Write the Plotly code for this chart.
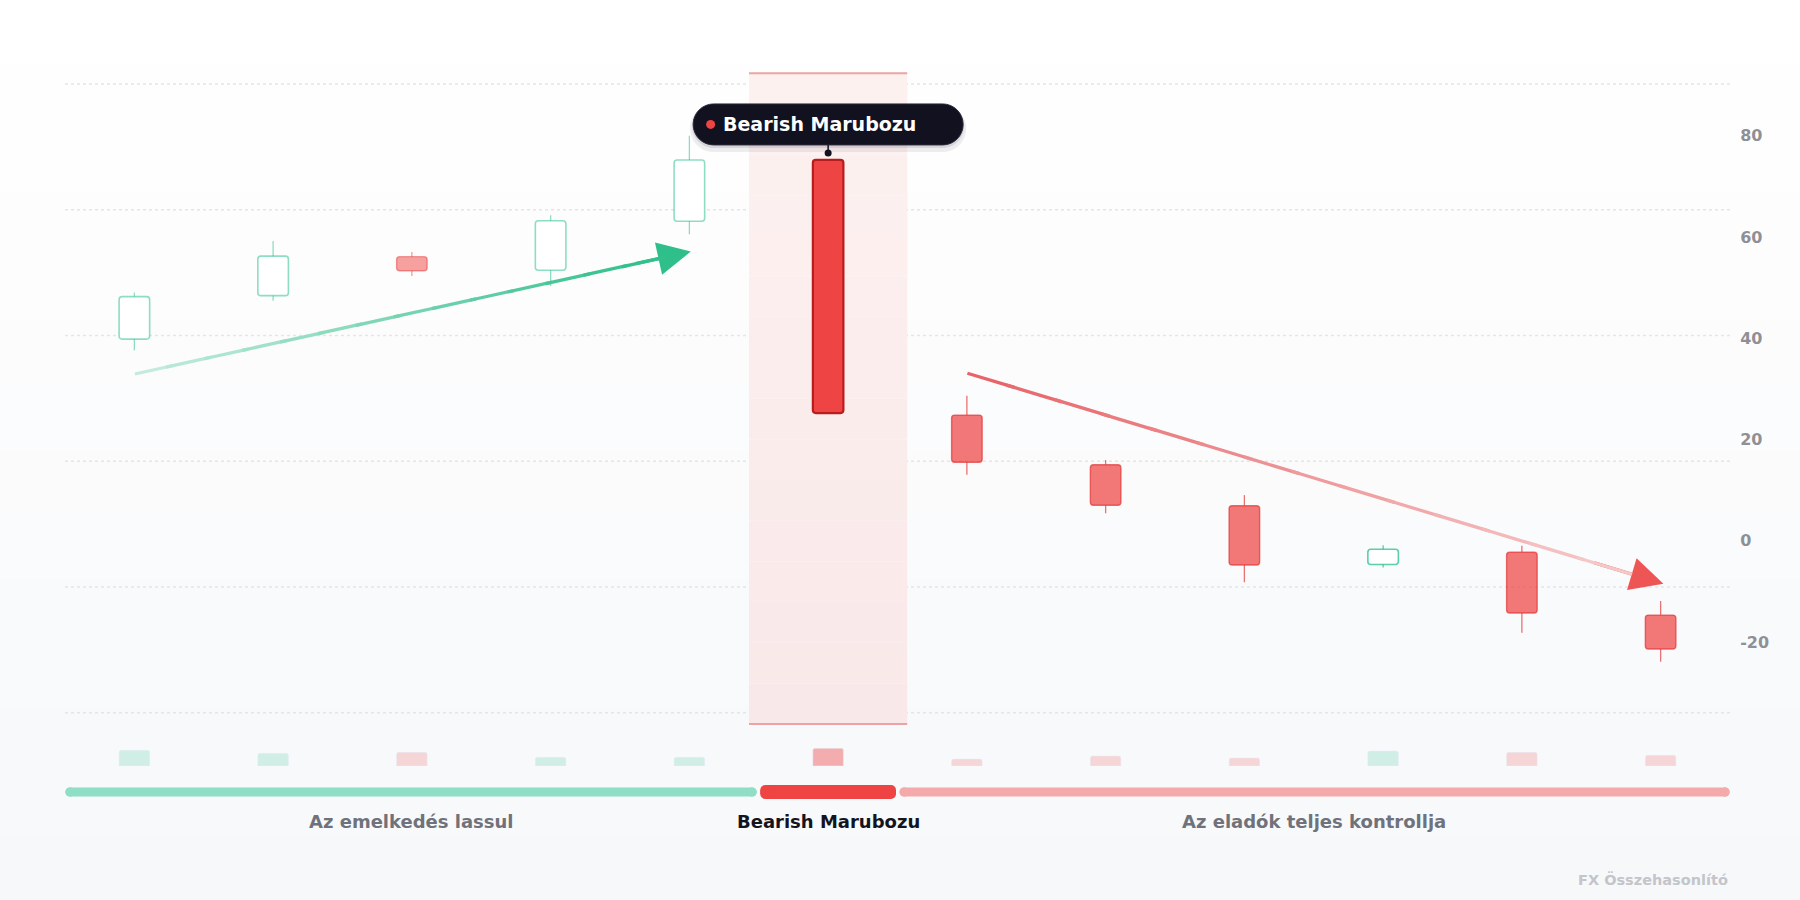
import plotly.graph_objects as go

# candle data (index 0..11)
candles = list(range(12))
opens = [39.8, 48.4, 56.1, 53.4, 63.1, 75.2, 24.8, 15.0, 6.9, -4.7, -2.3, -14.7]
closes = [48.2, 56.2, 53.3, 63.2, 75.2, 25.2, 15.5, 7.0, -4.8, -1.7, -14.3, -21.4]
highs = [49.0, 59.2, 57.0, 64.3, 80.0, 75.2, 28.6, 15.9, 9.0, -0.9, -1.0, -11.9]
lows = [37.6, 47.4, 52.3, 50.3, 60.5, 25.2, 13.0, 5.4, -8.2, -5.3, -18.2, -23.9]
volumes = [157, 127, 137, 87, 87, 177, 70, 100, 80, 150, 137, 107]

y_ticks = [-20, 0, 20, 40, 60, 80]

# phases of the story, by candle index
phase_labels = ['Az emelkedés lassul', 'Bearish Marubozu', 'Az eladók teljes kontrollja']
phase_first = [0, 5, 6]
phase_last = [4, 5, 11]

pattern_index = 5
pattern_name = 'Bearish Marubozu'

# trend arrows (start -> tip)
up_arrow_x = [0, 4.01]
up_arrow_y = [32.9, 57.1]
down_arrow_x = [6, 11.02]
down_arrow_y = [33.1, -8.5]

watermark = 'FX Összehasonlító'

FONT = 'DejaVu Sans'
GREEN = (16, 185, 129)
RED = (239, 68, 68)
PHASE_ALPHA = [0.5, 1.0, 0.72]
BAR_W = 0.22


def rgba(c, a):
    return 'rgba(%d,%d,%d,%.3f)' % (c[0], c[1], c[2], a)


def mix(c0, c1, t):
    return 'rgb(%d,%d,%d)' % tuple(int(round(a + (b - a) * t)) for a, b in zip(c0, c1))


def phase_of(i):
    for p in range(len(phase_first)):
        if phase_first[p] <= i <= phase_last[p]:
            return p
    return 0


fig = go.Figure()

# wicks (drawn under the bodies, split so hollow candles stay hollow)
for i in candles:
    up = closes[i] >= opens[i]
    a = PHASE_ALPHA[phase_of(i)]
    if i == pattern_index:
        col = '#b91c1c'
    elif up:
        col = rgba(GREEN, a * 0.95)
    else:
        col = rgba((225, 50, 50), a * 0.95)
    top = max(opens[i], closes[i])
    bot = min(opens[i], closes[i])
    fig.add_trace(go.Scatter(
        x=[i, i, None, i, i],
        y=[highs[i], top, None, bot, lows[i]],
        mode='lines',
        line={'color': col, 'width': 1.3},
        hoverinfo='skip',
        showlegend=False,
    ))

fills, lines, widths = [], [], []
for i in candles:
    up = closes[i] >= opens[i]
    a = PHASE_ALPHA[phase_of(i)]
    if i == pattern_index:
        fills.append('#ef4444')
        lines.append('#b91c1c')
        widths.append(2.2)
    elif up:
        fills.append('#ffffff')
        lines.append(rgba(GREEN, a * 0.95))
        widths.append(1.6)
    else:
        fills.append(rgba(RED, a))
        lines.append(rgba((225, 50, 50), a * 0.95))
        widths.append(1.4)

fig.add_trace(go.Bar(
    x=candles,
    y=[abs(c - o) for o, c in zip(opens, closes)],
    base=[min(o, c) for o, c in zip(opens, closes)],
    width=BAR_W,
    marker={'color': fills, 'line': {'color': lines, 'width': widths},
            'cornerradius': 3},
    hoverinfo='skip',
    showlegend=False,
))

# volume
vol_cols = []
for i in candles:
    up = closes[i] >= opens[i]
    if i == pattern_index:
        vol_cols.append(rgba(RED, 0.42))
    elif up:
        vol_cols.append(rgba(GREEN, 0.17))
    else:
        vol_cols.append(rgba(RED, 0.2))

fig.add_trace(go.Bar(
    x=candles,
    y=volumes,
    yaxis='y2',
    width=BAR_W,
    marker={'color': vol_cols, 'cornerradius': 2},
    hoverinfo='skip',
    showlegend=False,
))

shapes = []

# soft vertical background wash, white at the top
n_bands = 14
pl, pr, pb, pt = -65 / 1665, 1 + 70 / 1665, -134 / 682, 1 + 84 / 682
for b in range(n_bands):
    t = b / (n_bands - 1)
    shapes.append(dict(type='rect', xref='paper', yref='paper', layer='below',
                       x0=pl, x1=pr,
                       y0=pt - (pt - pb) * (b + 1) / n_bands,
                       y1=pt - (pt - pb) * b / n_bands,
                       fillcolor=mix((255, 255, 255), (247, 248, 250), t),
                       line={'width': 0}))

# dotted background guides
for k in range(6):
    shapes.append(dict(type='line', xref='x domain', yref='y domain',
                       x0=0, x1=1, y0=k / 5, y1=k / 5, layer='below',
                       line={'color': '#e2e5ea', 'width': 1.5, 'dash': 'dot'}))

# highlight zone around the pattern candle (vertical wash, deeper at the bottom)
hx0 = pattern_index - 0.57
hx1 = pattern_index + 0.57
hy0, hy1 = -0.018, 1.017
n_wash = 16
for b in range(n_wash):
    t = b / (n_wash - 1)
    shapes.append(dict(type='rect', xref='x', yref='y domain', x0=hx0, x1=hx1,
                       y0=hy1 - (hy1 - hy0) * (b + 1) / n_wash,
                       y1=hy1 - (hy1 - hy0) * b / n_wash,
                       layer='below', line={'width': 0},
                       fillcolor=mix((253, 241, 240), (249, 232, 233), t)))
for yy in (hy0, hy1):
    shapes.append(dict(type='line', xref='x', yref='y domain', x0=hx0, x1=hx1,
                       y0=yy, y1=yy, line={'color': '#eba3a3', 'width': 2}))

# tooltip pill above the pattern candle (pixel offsets from its high)
ax = pattern_index
ay = highs[pattern_index]
w, y0, y1 = 135, 15, 56
ym = (y0 + y1) / 2


def pill(dx, dy, grow):
    L, R, B, T = -w - grow + dx, w + grow + dx, y0 - grow + dy, y1 + grow + dy
    rr = (T - B) / 2
    kk = 0.5523 * rr
    mid = (T + B) / 2
    return ('M %f,%f L %f,%f C %f,%f %f,%f %f,%f C %f,%f %f,%f %f,%f '
            'L %f,%f C %f,%f %f,%f %f,%f C %f,%f %f,%f %f,%f Z') % (
        L + rr, B, R - rr, B,
        R - rr + kk, B, R, mid - kk, R, mid,
        R, mid + kk, R - rr + kk, T, R - rr, T,
        L + rr, T,
        L + rr - kk, T, L, mid + kk, L, mid,
        L, mid - kk, L + rr - kk, B, L + rr, B)


pix = dict(xref='x', yref='y', xsizemode='pixel', ysizemode='pixel',
           xanchor=ax, yanchor=ay)
shapes.append(dict(type='path', path=pill(0, -4, 3),
                   fillcolor='rgba(20,20,40,0.07)', line={'width': 0}, **pix))
shapes.append(dict(type='path', path=pill(0, -2, 1),
                   fillcolor='rgba(20,20,40,0.10)', line={'width': 0}, **pix))
shapes.append(dict(type='path', path=pill(0, 0, 0),
                   fillcolor='#11111f', line={'color': '#2a2a3a', 'width': 1}, **pix))
shapes.append(dict(type='line', x0=0, x1=0, y0=7, y1=y0,
                   line={'color': '#11111f', 'width': 1.5}, **pix))
shapes.append(dict(type='circle', x0=-3.5, x1=3.5, y0=3.5, y1=10.5,
                   fillcolor='#11111f', line={'width': 0}, **pix))
shapes.append(dict(type='circle', x0=-122, x1=-113, y0=ym - 4.5, y1=ym + 4.5,
                   fillcolor='#ef4444', line={'width': 0}, **pix))

# phase progress bar with rounded ends
bar_y = -0.0381
phase_cols = ['#8fdec5', '#ef4444', '#f4aaaa']
phase_half = [4.5, 7, 4.5]
gap = 0.012
inset = 0.035
for p in range(len(phase_labels)):
    x0 = phase_first[p] - 0.5 + inset + (gap if p > 0 else 0)
    x1 = phase_last[p] + 0.5 - inset - (gap if p < len(phase_labels) - 1 else 0)
    h = phase_half[p]
    shapes.append(dict(type='rect', xref='x', yref='paper', ysizemode='pixel',
                       yanchor=bar_y, x0=x0, x1=x1, y0=-h, y1=h,
                       fillcolor=phase_cols[p], line={'width': 0}))
    cap = min(h, 5)
    for xe in (x0, x1):
        shapes.append(dict(type='rect', xref='x', yref='paper', xsizemode='pixel',
                           ysizemode='pixel', xanchor=xe, yanchor=bar_y,
                           x0=-cap, x1=cap, y0=-h + cap, y1=h - cap,
                           fillcolor=phase_cols[p], line={'width': 0}))
        for sy in (-1, 1):
            shapes.append(dict(type='circle', xref='x', yref='paper', xsizemode='pixel',
                               ysizemode='pixel', xanchor=xe, yanchor=bar_y,
                               x0=-cap, x1=cap,
                               y0=sy * (h - cap) - cap, y1=sy * (h - cap) + cap,
                               fillcolor=phase_cols[p], line={'width': 0}))

annotations = []
for p in range(len(phase_labels)):
    annotations.append(dict(
        x=(phase_first[p] + phase_last[p]) / 2, y=-0.0821, xref='x', yref='paper',
        text='<b>%s</b>' % phase_labels[p], showarrow=False,
        xanchor='center', yanchor='middle',
        font={'family': FONT, 'size': 18,
              'color': '#141420' if p == 1 else '#6f727b'}))

annotations.append(dict(
    x=ax, y=ay, xref='x', yref='y', text='<b>%s</b>' % pattern_name,
    showarrow=False, xanchor='center', yanchor='middle', xshift=-9, yshift=ym,
    font={'family': FONT, 'size': 19, 'color': '#ffffff'}))


# trend arrows: strong head, shaft fading along its length
def trend_arrow(xs, ys, c_start, c_end, head_col):
    dx, dy = xs[1] - xs[0], ys[1] - ys[0]
    out = [dict(x=xs[1], y=ys[1], ax=xs[0] + dx * 0.9, ay=ys[0] + dy * 0.9,
                xref='x', yref='y', axref='x', ayref='y', text='', showarrow=True,
                arrowhead=2, arrowsize=2.0, arrowwidth=3.3, arrowcolor=head_col,
                standoff=0, borderpad=0, font={'size': 1})]
    n = 14
    stop = 0.955
    for s in range(n):
        t0 = max(stop * s / n - 0.012, 0)
        t1 = stop * (s + 1) / n
        out.append(dict(
            x=xs[0] + dx * t1, y=ys[0] + dy * t1,
            ax=xs[0] + dx * t0, ay=ys[0] + dy * t0,
            xref='x', yref='y', axref='x', ayref='y', text='', showarrow=True,
            arrowhead=0, arrowwidth=3.3, standoff=0, startstandoff=0,
            borderpad=0, font={'size': 1},
            arrowcolor=mix(c_start, c_end, (s + 0.5) / n)))
    return out


annotations += trend_arrow(up_arrow_x, up_arrow_y, (200, 237, 223), (44, 190, 137),
                           '#2ebf8b')
annotations += trend_arrow(down_arrow_x, down_arrow_y, (230, 96, 100), (246, 204, 204),
                           '#ee5656')

annotations.append(dict(
    x=1, y=-0.1657, xref='paper', yref='paper', text='<b>%s</b>' % watermark,
    showarrow=False, xanchor='right', yanchor='middle',
    font={'family': FONT, 'size': 14.5, 'color': '#c3c5ca'}))

fig.update_layout(
    width=1800,
    height=900,
    margin={'l': 65, 'r': 70, 't': 84, 'b': 134},
    paper_bgcolor='#fafbfc',
    plot_bgcolor='rgba(0,0,0,0)',
    barmode='overlay',
    showlegend=False,
    hovermode=False,
    font={'family': FONT},
    xaxis={'range': [-0.5, 11.5], 'showgrid': False, 'zeroline': False,
           'showticklabels': False, 'showline': False, 'fixedrange': True},
    yaxis={'domain': [0.078, 1], 'range': [-34.0, 90.2], 'side': 'right',
           'tickvals': y_ticks, 'ticktext': [str(v) for v in y_ticks],
           'showgrid': False, 'zeroline': False, 'showline': False,
           'ticks': 'outside', 'ticklen': 6, 'tickcolor': 'rgba(0,0,0,0)',
           'tickfont': {'family': FONT, 'size': 16, 'color': '#8f9096',
                        'weight': 'bold'},
           'fixedrange': True},
    yaxis2={'domain': [0, 0.06], 'range': [0, 410], 'visible': False,
            'fixedrange': True},
    shapes=shapes,
    annotations=annotations,
)

fig.write_html('out.html', config={'displayModeBar': False},
               post_script="document.body.style.margin='0';"
                           "document.body.style.overflow='hidden';")
